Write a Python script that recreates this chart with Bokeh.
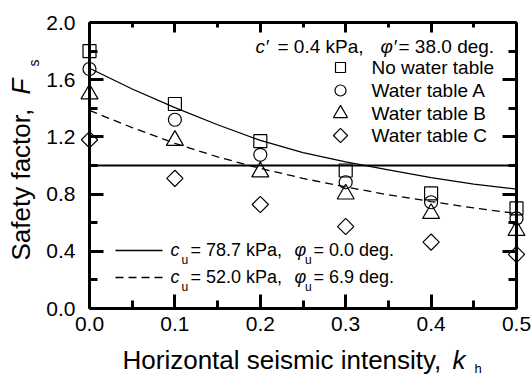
import math
from bokeh.plotting import figure
from bokeh.models import (Range1d, LinearAxis, FixedTicker, PrintfTickFormatter,
                          CustomLabelingPolicy)
from bokeh.core.properties import value
from bokeh.embed import file_html
from bokeh.resources import INLINE

# ---------------- data ----------------
k_points = [0.0, 0.1, 0.2, 0.3, 0.4, 0.5]
fs_no_water = [1.80, 1.43, 1.17, 0.965, 0.805, 0.70]
fs_water_a = [1.675, 1.32, 1.075, 0.883, 0.743, 0.63]
fs_water_b = [1.50, 1.175, 0.955, 0.80, 0.664, 0.545]
fs_water_c = [1.18, 0.91, 0.727, 0.573, 0.464, 0.378]

k_curve = [0.0, 0.05, 0.1, 0.15, 0.2, 0.25, 0.3, 0.35, 0.4, 0.45, 0.5]
fs_curve_phi0 = [1.68, 1.535, 1.405, 1.285, 1.175, 1.09, 1.025, 0.97, 0.915, 0.87, 0.835]
fs_curve_phi69 = [1.385, 1.265, 1.155, 1.06, 0.98, 0.91, 0.85, 0.795, 0.748, 0.703, 0.664]

fs_threshold = 1.0

x_ticks = [0.0, 0.1, 0.2, 0.3, 0.4, 0.5]
x_minor = [0.05, 0.15, 0.25, 0.35, 0.45]
y_ticks = [0.0, 0.4, 0.8, 1.2, 1.6, 2.0]
y_minor = [0.2, 0.6, 1.0, 1.4, 1.8]

legend_names = ["No water table", "Water table A", "Water table B", "Water table C"]
FONT = "Liberation Sans"

W, H = 531, 376
FRAME_L, FRAME_R, FRAME_T, FRAME_B = 89, 516, 22, 308

p = figure(width=W, height=H, output_backend="svg", toolbar_location=None,
           x_range=Range1d(0, 0.5), y_range=Range1d(0, 2.0),
           min_border_left=FRAME_L, min_border_right=W - FRAME_R,
           min_border_top=FRAME_T, min_border_bottom=H - FRAME_B)
p.background_fill_color = "white"
p.border_fill_color = "white"
p.outline_line_color = None
p.xgrid.visible = False
p.ygrid.visible = False

no_labels = CustomLabelingPolicy(code="return new Set()")


def style_axis(ax, ticks, minor, tin, tmin, labels=True):
    ax.ticker = FixedTicker(ticks=ticks, minor_ticks=minor)
    ax.formatter = PrintfTickFormatter(format="%.1f")
    ax.axis_line_width = 3
    ax.axis_line_color = "black"
    ax.major_tick_in = tin
    ax.major_tick_out = 0
    ax.minor_tick_in = tmin
    ax.minor_tick_out = 0
    ax.major_tick_line_width = 3
    ax.minor_tick_line_width = 3
    ax.major_tick_line_color = "black"
    ax.minor_tick_line_color = "black"
    ax.major_label_text_font = FONT
    ax.major_label_text_color = "black"
    if labels:
        ax.major_label_text_font_size = "21px"
    else:
        ax.major_label_text_font_size = "1px"
        ax.major_label_standoff = 0
        ax.major_label_policy = no_labels


xa = p.xaxis[0]
style_axis(xa, x_ticks, x_minor, 14, 8)
xa.major_label_standoff = 8

ya = p.yaxis[0]
style_axis(ya, y_ticks, y_minor, 14, 8)
ya.major_label_standoff = 14

top = LinearAxis()
style_axis(top, x_ticks, x_minor, 10, 5, labels=False)
p.add_layout(top, "above")

right = LinearAxis()
style_axis(right, y_ticks, y_minor, 14, 8, labels=False)
p.add_layout(right, "right")

# ---------------- curves ----------------
p.line([0, 0.5], [fs_threshold, fs_threshold], line_color="black", line_width=2)
p.line(k_curve, fs_curve_phi0, line_color="black", line_width=1.3)
p.line(k_curve, fs_curve_phi69, line_color="black", line_width=1.3, line_dash="8 5")

# ---------------- points (overlay level so edge markers are not cut) ----------------
mk = dict(fill_color=None, line_color="black", line_width=1.2, level="overlay")
p.scatter(k_points, fs_no_water, marker="square", size=13, **mk)
p.scatter(k_points, fs_water_a, marker="circle", size=13, **mk)
p.scatter(k_points, fs_water_b, marker="triangle", size=17, **mk)
p.scatter(k_points, fs_water_c, marker="square", size=11.5, angle=math.pi / 4, **mk)


def to_x(px):  # figure pixel -> data
    return (px - FRAME_L) / (FRAME_R - FRAME_L) * 0.5


def to_y(py):
    return (FRAME_B - py) / (FRAME_B - FRAME_T) * 2.0


def lab(text, x, base, size, italic=False, rotated=False):
    # (x, base): start of the text on its baseline, in figure pixels
    if rotated:
        ax, ay, ang = base - 0.35 * size, x, math.pi / 2
    else:
        ax, ay, ang = x, base - 0.35 * size, 0.0
    p.text(x=[to_x(ax)], y=[to_y(ay)], text=[text], text_font=value(FONT),
           text_font_size=value(f"{size}px"),
           text_font_style="italic" if italic else "normal",
           angle=ang, text_align="left", text_baseline="alphabetic",
           text_color="#000000", level="overlay")


# ---------------- legend (top right) ----------------
leg_rows = [67, 90, 113, 135]
leg_marks = [("square", 10, 0.0), ("circle", 11, 0.0), ("triangle", 14, 0.0),
             ("square", 10, math.pi / 4)]
for name, r, (m, s, a) in zip(legend_names, leg_rows, leg_marks):
    p.scatter(x=[to_x(340)], y=[to_y(r)], marker=m, size=s, angle=a, **mk)
    lab(name, 371, r + 7, 19)

# parameters line at top
lab("c\u2032", 255, 53, 19, italic=True)
lab("= 0.4 kPa,", 277, 53, 19)
lab("\u03c6\u2032", 380, 53, 19, italic=True)
lab("= 38.0 deg.", 398, 53, 19)

# ---------------- curve legend (bottom left) ----------------
p.line([to_x(115), to_x(162)], [to_y(250), to_y(250)], line_color="black", line_width=1.3)
p.line([to_x(115), to_x(162)], [to_y(277), to_y(277)], line_color="black", line_width=1.3,
       line_dash="8 5")
for base, cu, phiu in [(256, "= 78.7 kPa,", "= 0.0 deg."), (283, "= 52.0 kPa,", "= 6.9 deg.")]:
    lab("c", 170, base, 18, italic=True)
    lab("u", 181, base + 8, 12)
    lab(cu, 190, base, 18)
    lab("\u03c6", 294, base, 18, italic=True)
    lab("u", 304.5, base + 8, 12)
    lab(phiu, 313, base, 18)

# ---------------- axis titles ----------------
lab("Horizontal seismic intensity, ", 122, 369, 26)
lab("k", 452, 369, 26, italic=True)
lab("h", 474, 373, 13)

lab("Safety factor, ", 260, 30, 26, rotated=True)
lab("F", 94, 30, 26, italic=True, rotated=True)
lab("s", 66, 38, 14, rotated=True)

open("out.html", "w").write(file_html(p, INLINE))
